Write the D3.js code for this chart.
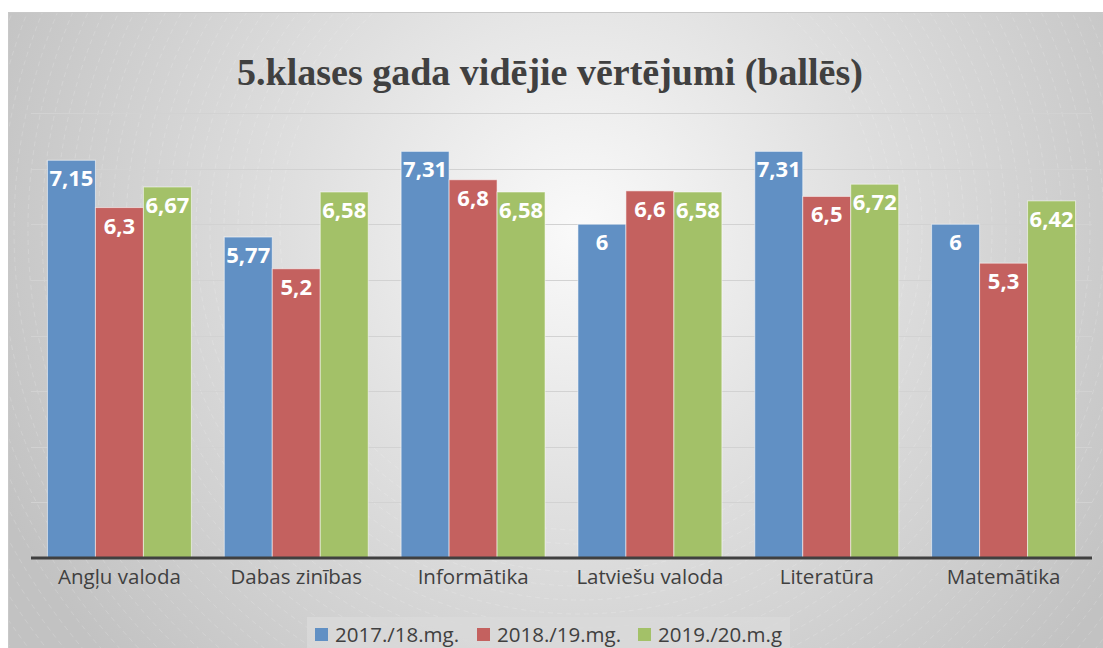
<!DOCTYPE html>
<html><head><meta charset="utf-8">
<script src="https://cdn.jsdelivr.net/npm/d3@7"></script>
<style>body{margin:0;background:#fff;}svg{display:block;}</style>
</head><body>
<script>
const categories = ["Angļu valoda","Dabas zinības","Informātika","Latviešu valoda","Literatūra","Matemātika"];
const seriesNames = ["2017./18.mg.","2018./19.mg.","2019./20.m.g"];
const s2017 = [7.15,5.77,7.31,6,7.31,6];
const s2018 = [6.3,5.2,6.8,6.6,6.5,5.3];
const s2019 = [6.67,6.58,6.58,6.58,6.72,6.42];
const labels2017 = ["7,15","5,77","7,31","6","7,31","6"];
const labels2018 = ["6,3","5,2","6,8","6,6","6,5","5,3"];
const labels2019 = ["6,67","6,58","6,58","6,58","6,72","6,42"];
const gridTicks = [1,2,3,4,5,6,7,8];
const colors = ["#6190c4","#c4615f","#a3c168"];
const title = "5.klases gada vidējie vērtējumi (ballēs)";

const W=1103,H=648;
const FONT="'Open Sans',Lato,sans-serif";
const svg=d3.select("body").append("svg").attr("width",W).attr("height",H);
const defs=svg.append("defs");
const rg=defs.append("radialGradient").attr("id","bg").attr("gradientUnits","userSpaceOnUse")
  .attr("cx",580).attr("cy",230).attr("r",640);
rg.append("stop").attr("offset","0").attr("stop-color","#fafafa");
rg.append("stop").attr("offset","0.45").attr("stop-color","#dfdfdf");
rg.append("stop").attr("offset","1").attr("stop-color","#c2c2c2");
svg.append("rect").attr("x",8.5).attr("y",12.5).attr("width",W-8).attr("height",H-12)
  .attr("fill","url(#bg)").attr("stroke","#c8c8c8").attr("stroke-width",1);

const rings=svg.append("g").attr("clip-path","url(#clipf)");
defs.append("clipPath").attr("id","clipf").append("rect").attr("x",9).attr("y",13).attr("width",W-9).attr("height",H-13);
d3.range(300,1100,14).forEach(r=>{
  rings.append("circle").attr("cx",580).attr("cy",230).attr("r",r).attr("fill","none")
   .attr("stroke","#fff").attr("stroke-opacity",0.28).attr("stroke-width",0.6).attr("stroke-dasharray","5,4");
});

const x0=d3.scaleBand().domain(categories).range([31,1092]).paddingInner(0.186).paddingOuter(0.093);
const x1=d3.scaleBand().domain(seriesNames).range([0,x0.bandwidth()]);
const y=d3.scaleLinear().domain([0,8]).range([558,113]);

svg.append("g").selectAll("line").data(gridTicks).join("line")
  .attr("x1",31).attr("x2",1092).attr("y1",d=>Math.round(y(d))+0.5).attr("y2",d=>Math.round(y(d))+0.5)
  .attr("stroke","#d2d2d2").attr("stroke-width",1.2);

svg.append("text").attr("x",550).attr("y",85).attr("text-anchor","middle")
  .attr("font-family","'Liberation Serif','Times New Roman',serif").attr("font-weight","bold")
  .attr("font-size",38).attr("fill","#404040").text(title);

const data=[s2017,s2018,s2019], lbls=[labels2017,labels2018,labels2019];
data.forEach((ser,si)=>{
  const g=svg.append("g");
  g.selectAll("rect").data(ser).join("rect")
    .attr("x",(d,i)=>x0(categories[i])+x1(seriesNames[si]))
    .attr("y",d=>y(d)).attr("width",x1.bandwidth()).attr("height",d=>y(0)-y(d))
    .attr("fill",colors[si]).attr("stroke","rgba(255,255,255,0.55)").attr("stroke-width",1);
  g.selectAll("text").data(ser).join("text")
    .attr("x",(d,i)=>x0(categories[i])+x1(seriesNames[si])+x1.bandwidth()/2)
    .attr("y",d=>y(d)+26).attr("text-anchor","middle")
    .attr("font-family",FONT).attr("font-weight","bold").attr("font-size",22)
    .attr("fill","#fff").text((d,i)=>lbls[si][i]);
});

const xAxis=svg.append("g").attr("transform","translate(0,558)")
  .call(d3.axisBottom(x0).tickSize(0).tickPadding(11));
xAxis.select(".domain").attr("stroke","#404040").attr("stroke-width",3).attr("d","M31,0H1092");
xAxis.selectAll("text").attr("font-family",FONT).attr("font-size",20.5).attr("fill","#404040");

const lg=svg.append("g");
lg.append("rect").attr("x",307).attr("y",617).attr("width",483).attr("height",31).attr("fill","#d9d9d9").attr("opacity",0.8);
const lx=[315,477,638];
seriesNames.forEach((n,i)=>{
  lg.append("rect").attr("x",lx[i]).attr("y",628).attr("width",13).attr("height",13).attr("fill",colors[i]);
  lg.append("text").attr("x",lx[i]+20).attr("y",642).attr("font-family",FONT)
    .attr("font-size",20.5).attr("fill","#404040").text(n);
});
</script>
</body></html>
